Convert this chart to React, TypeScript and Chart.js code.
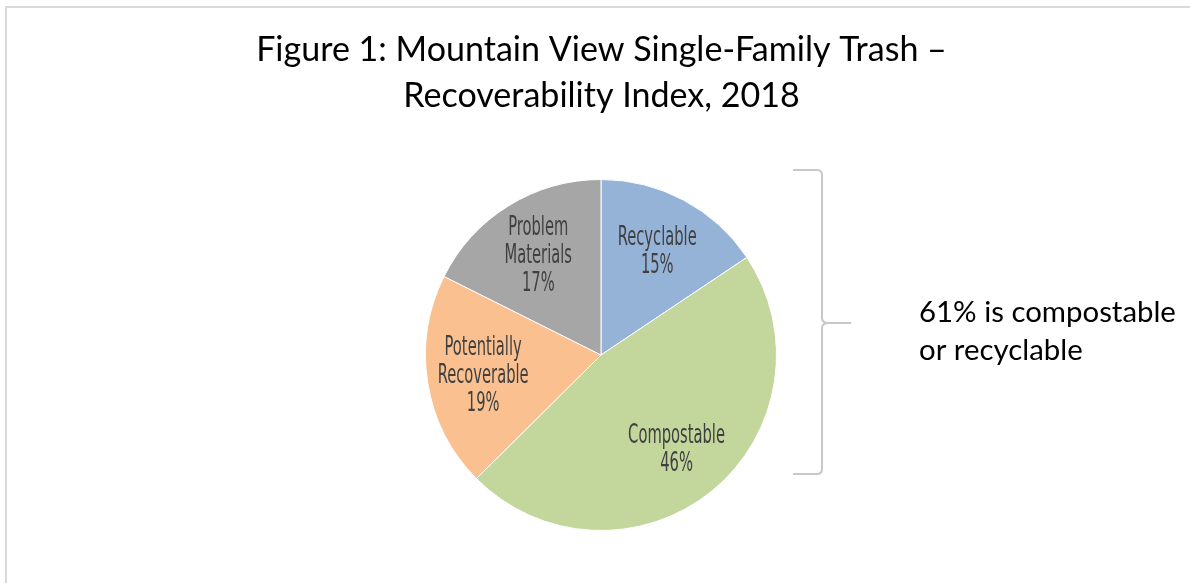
import React, { useEffect, useRef } from "react";
import { Chart, registerables } from "chart.js";

Chart.register(...registerables);

// ---- data ----
const categories = ["Recyclable", "Compostable", "Potentially Recoverable", "Problem Materials"];
const shares = [15.6, 46.9, 19.8, 17.6];
const percentLabels = ["15%", "46%", "19%", "17%"];
const labelLines = [["Recyclable"], ["Compostable"], ["Potentially", "Recoverable"], ["Problem", "Materials"]];
const titleLines = ["Figure 1: Mountain View Single-Family Trash –", "Recoverability Index, 2018"];
const noteLines = ["61% is compostable", "or recyclable"];

// ---- style ----
const sliceColors = ["#95B3D7", "#C3D69B", "#FAC090", "#A6A6A6"];
const W = 1190;
const H = 583;
const TITLE_FAMILY = "Lato, 'Open Sans', sans-serif";
const LABEL_FAMILY = "'Liberation Sans Narrow', 'DejaVu Sans Condensed', sans-serif";

function fitSize(ctx: CanvasRenderingContext2D, text: string, family: string, target: number) {
  ctx.font = `100px ${family}`;
  const w = ctx.measureText(text).width;
  return (100 * target) / w;
}

const decorPlugin = {
  id: "decor",
  beforeDraw(chart: any) {
    const ctx: CanvasRenderingContext2D = chart.ctx;
    ctx.save();
    ctx.fillStyle = "#ffffff";
    ctx.fillRect(0, 0, W, H);
    // frame
    ctx.strokeStyle = "#d9d9d9";
    ctx.lineWidth = 2;
    ctx.strokeRect(6, 7, 3000, 3000);
    ctx.restore();
  },
  afterDraw(chart: any) {
    const ctx: CanvasRenderingContext2D = chart.ctx;
    ctx.save();
    // title
    const ts = fitSize(ctx, titleLines[0], TITLE_FAMILY, 691);
    ctx.font = `${ts}px ${TITLE_FAMILY}`;
    ctx.fillStyle = "#000000";
    ctx.textAlign = "center";
    ctx.textBaseline = "alphabetic";
    ctx.fillText(titleLines[0], 601.5, 61);
    ctx.fillText(titleLines[1], 601.5, 107);

    // brace
    ctx.strokeStyle = "#c8c8c8";
    ctx.lineWidth = 2;
    ctx.lineJoin = "round";
    ctx.beginPath();
    const bx = 822, top = 170, bot = 474, tip = 323, r = 5;
    ctx.moveTo(793, top);
    ctx.lineTo(bx - r, top);
    ctx.quadraticCurveTo(bx, top, bx, top + r);
    ctx.lineTo(bx, tip - r);
    ctx.quadraticCurveTo(bx, tip, bx + r + 2, tip);
    ctx.lineTo(851, tip);
    ctx.moveTo(bx + r + 2, tip);
    ctx.quadraticCurveTo(bx, tip, bx, tip + r);
    ctx.lineTo(bx, bot - r);
    ctx.quadraticCurveTo(bx, bot, bx - r, bot);
    ctx.lineTo(793, bot);
    ctx.stroke();

    // note
    const ns = fitSize(ctx, noteLines[0], TITLE_FAMILY, 257);
    ctx.font = `${ns}px ${TITLE_FAMILY}`;
    ctx.textAlign = "left";
    ctx.fillStyle = "#000000";
    ctx.fillText(noteLines[0], 919, 322);
    ctx.fillText(noteLines[1], 919, 360);
    ctx.restore();
  },
  afterDatasetsDraw(chart: any) {
    const ctx: CanvasRenderingContext2D = chart.ctx;
    const meta = chart.getDatasetMeta(0);
    ctx.save();
    const fontSize = 26;
    ctx.font = `${fontSize}px ${LABEL_FAMILY}`;
    const xScale = 79 / ctx.measureText("Recyclable").width;
    const capH = fontSize * 0.72;
    const lineGap = 28;
    ctx.fillStyle = "#404040";
    ctx.textAlign = "center";
    ctx.textBaseline = "alphabetic";
    meta.data.forEach((arc: any, i: number) => {
      const p = arc.getProps(["x", "y", "startAngle", "endAngle", "outerRadius"], true);
      const mid = (p.startAngle + p.endAngle) / 2;
      const rr = p.outerRadius * 0.68;
      const cx = p.x + Math.cos(mid) * rr;
      const cy = p.y + Math.sin(mid) * rr;
      const lines = [...labelLines[i], percentLabels[i]];
      const n = lines.length;
      lines.forEach((t, j) => {
        const ly = cy + (j - (n - 1) / 2) * lineGap + capH / 2;
        ctx.save();
        ctx.translate(cx, ly);
        ctx.scale(xScale, 1);
        ctx.fillText(t, 0, 0);
        ctx.restore();
      });
    });
    ctx.restore();
  },
};

export default function App() {
  const ref = useRef<HTMLCanvasElement | null>(null);
  useEffect(() => {
    if (!ref.current) return;
    const chart = new Chart(ref.current, {
      type: "pie",
      data: {
        labels: categories,
        datasets: [
          {
            data: shares,
            backgroundColor: sliceColors,
            borderColor: "#ffffff",
            borderWidth: 1,
            hoverOffset: 0,
          },
        ],
      },
      options: {
        responsive: false,
        animation: false,
        devicePixelRatio: 1,
        layout: { padding: { top: 179, bottom: 52, left: 425, right: 413 } },
        plugins: {
          legend: { display: false },
          tooltip: { enabled: false },
          title: { display: false },
        },
      },
      plugins: [decorPlugin],
    });
    return () => chart.destroy();
  }, []);
  return (
    <div
      style={{
        position: "absolute",
        left: 0,
        top: 0,
        width: W,
        height: H,
        overflow: "hidden",
        background: "#ffffff",
      }}
    >
      <canvas ref={ref} width={W} height={H} style={{ display: "block" }} />
    </div>
  );
}
